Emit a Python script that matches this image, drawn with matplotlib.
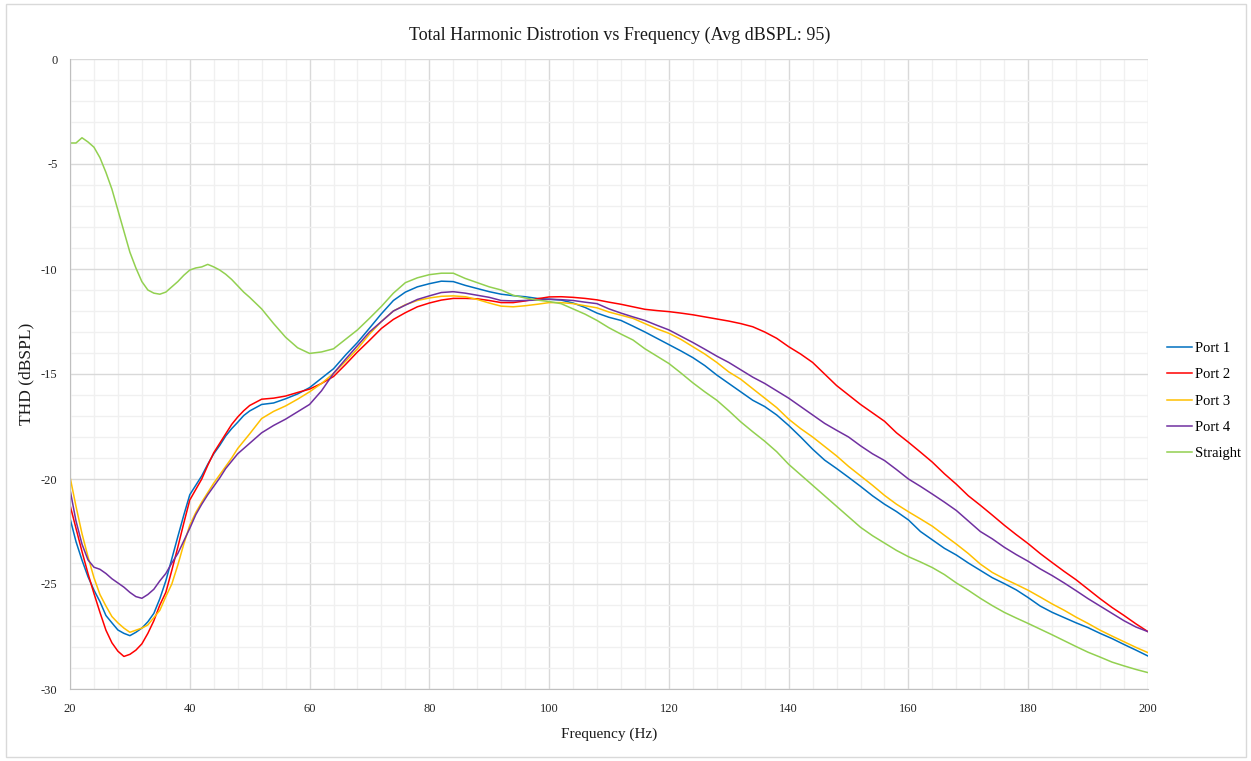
import matplotlib
matplotlib.use("Agg")
import matplotlib.pyplot as plt
from matplotlib.ticker import MultipleLocator
from matplotlib.patches import Rectangle

# frequency points (Hz): 1 Hz steps up to 50, then 2 Hz steps
freq = list(range(20, 51)) + list(range(52, 201, 2))

port1 = [-21.87, -22.98, -23.86, -24.65, -25.29, -25.84, -26.5, -26.85, -27.19, -27.35,
         -27.46, -27.3, -27.1, -26.8, -26.4, -25.7, -24.85, -23.8, -22.75, -21.72,
         -20.75, -20.3, -19.85, -19.3, -18.8, -18.4, -17.95, -17.6, -17.3, -16.98, -16.76,
         -16.45, -16.38, -16.18, -15.95, -15.65, -15.2, -14.75, -14.1, -13.5, -12.82,
         -12.13, -11.5, -11.1, -10.85, -10.7, -10.58, -10.6, -10.78, -10.93, -11.08,
         -11.2, -11.27, -11.32, -11.4, -11.44, -11.48, -11.62, -11.83, -12.1, -12.3,
         -12.45, -12.72, -13.0, -13.3, -13.6, -13.9, -14.22, -14.6, -15.05, -15.45,
         -15.85, -16.25, -16.55, -16.95, -17.45, -18.0, -18.58, -19.1, -19.5, -19.92,
         -20.35, -20.8, -21.2, -21.55, -21.95, -22.5, -22.9, -23.3, -23.62, -24.0,
         -24.35, -24.7, -24.98, -25.28, -25.65, -26.05, -26.35, -26.6, -26.85, -27.08,
         -27.35, -27.6, -27.88, -28.15, -28.43]

port2 = [-21.24, -22.35, -23.45, -24.5, -25.45, -26.35, -27.2, -27.8, -28.2, -28.45,
         -28.35, -28.15, -27.85, -27.35, -26.75, -26.0, -25.4, -24.35, -23.25, -22.1,
         -21.0, -20.5, -20.0, -19.35, -18.75, -18.3, -17.85, -17.4, -17.05, -16.75, -16.5,
         -16.2, -16.15, -16.05, -15.88, -15.72, -15.45, -15.12, -14.55, -13.95, -13.4,
         -12.83, -12.4, -12.08, -11.8, -11.62, -11.48, -11.4, -11.4, -11.42, -11.5,
         -11.6, -11.6, -11.52, -11.42, -11.33, -11.32, -11.35, -11.4, -11.47, -11.58,
         -11.68, -11.8, -11.92, -11.98, -12.03, -12.1, -12.18, -12.28, -12.38, -12.48,
         -12.6, -12.75, -13.0, -13.3, -13.7, -14.05, -14.45, -15.0, -15.55, -16.0,
         -16.45, -16.85, -17.25, -17.8, -18.25, -18.72, -19.2, -19.75, -20.25, -20.8,
         -21.25, -21.72, -22.2, -22.65, -23.08, -23.55, -23.98, -24.4, -24.8, -25.25,
         -25.7, -26.12, -26.5, -26.9, -27.27]

port3 = [-19.9, -21.3, -22.6, -23.7, -24.7, -25.5, -26.05, -26.55, -26.85, -27.1,
         -27.3, -27.2, -27.1, -26.95, -26.6, -26.25, -25.6, -25.0, -24.1, -23.1,
         -22.2, -21.6, -21.1, -20.65, -20.2, -19.8, -19.4, -19.0, -18.55, -18.2, -17.85,
         -17.12, -16.78, -16.52, -16.2, -15.85, -15.45, -14.97, -14.4, -13.8, -13.1,
         -12.5, -12.0, -11.7, -11.5, -11.38, -11.3, -11.28, -11.32, -11.45, -11.62,
         -11.77, -11.8, -11.75, -11.68, -11.6, -11.6, -11.65, -11.75, -11.85, -12.05,
         -12.2, -12.35, -12.6, -12.85, -13.06, -13.35, -13.7, -14.05, -14.45, -14.9,
         -15.25, -15.7, -16.15, -16.6, -17.15, -17.6, -18.0, -18.45, -18.9, -19.4,
         -19.85, -20.3, -20.78, -21.2, -21.56, -21.9, -22.25, -22.68, -23.1, -23.55,
         -24.05, -24.45, -24.75, -25.02, -25.3, -25.62, -25.95, -26.25, -26.58, -26.88,
         -27.2, -27.48, -27.75, -28.02, -28.27]

port4 = [-20.5, -22.0, -23.1, -23.85, -24.2, -24.3, -24.5, -24.75, -24.95, -25.15,
         -25.4, -25.6, -25.68, -25.5, -25.25, -24.85, -24.5, -24.0, -23.55, -22.95,
         -22.35, -21.7, -21.2, -20.75, -20.35, -19.95, -19.5, -19.15, -18.8, -18.55, -18.3,
         -17.8, -17.45, -17.15, -16.8, -16.45, -15.8, -14.97, -14.3, -13.65, -13.0,
         -12.5, -12.0, -11.72, -11.45, -11.28, -11.12, -11.08, -11.15, -11.25, -11.35,
         -11.5, -11.52, -11.5, -11.48, -11.44, -11.46, -11.5, -11.58, -11.65, -11.9,
         -12.1, -12.28, -12.45, -12.68, -12.9, -13.2, -13.5, -13.82, -14.15, -14.45,
         -14.8, -15.15, -15.45, -15.8, -16.15, -16.55, -16.95, -17.35, -17.68, -18.0,
         -18.42, -18.8, -19.12, -19.55, -20.0, -20.35, -20.72, -21.1, -21.5, -22.0,
         -22.5, -22.85, -23.25, -23.6, -23.92, -24.28, -24.6, -24.95, -25.32, -25.7,
         -26.05, -26.4, -26.75, -27.05, -27.27]

straight = [-4.0, -4.0, -3.75, -3.95, -4.2, -4.7, -5.4, -6.2, -7.2, -8.2,
            -9.2, -9.95, -10.6, -11.0, -11.15, -11.2, -11.1, -10.85, -10.6, -10.3,
            -10.05, -9.95, -9.9, -9.78, -9.9, -10.05, -10.25, -10.5, -10.8, -11.1, -11.35,
            -11.9, -12.6, -13.25, -13.75, -14.02, -13.95, -13.8, -13.35, -12.9, -12.35,
            -11.78, -11.15, -10.65, -10.42, -10.27, -10.2, -10.2, -10.45, -10.65, -10.85,
            -11.0, -11.25, -11.38, -11.48, -11.55, -11.65, -11.9, -12.15, -12.45, -12.8,
            -13.1, -13.38, -13.8, -14.15, -14.5, -14.95, -15.42, -15.85, -16.25, -16.75,
            -17.28, -17.75, -18.2, -18.7, -19.3, -19.8, -20.3, -20.8, -21.3, -21.8,
            -22.3, -22.7, -23.05, -23.4, -23.7, -23.95, -24.22, -24.55, -24.95, -25.3,
            -25.68, -26.03, -26.35, -26.62, -26.88, -27.15, -27.42, -27.7, -27.98, -28.25,
            -28.48, -28.72, -28.9, -29.07, -29.22]

series = [("Port 1", port1, "#0070C0"),
          ("Port 2", port2, "#FF0000"),
          ("Port 3", port3, "#FFC000"),
          ("Port 4", port4, "#7030A0"),
          ("Straight", straight, "#92D050")]

plt.rcParams['font.family'] = ['Liberation Serif', 'DejaVu Serif']
plt.rcParams['axes.unicode_minus'] = False

fig = plt.figure(figsize=(12.51, 7.61), dpi=100)
ax = fig.add_axes([70/1251, 1 - 689/761, (1148 - 70)/1251, (689 - 59)/761])

for name, vals, col in series:
    ax.plot(freq, vals, color=col, lw=1.1, label=name)

ax.set_xlim(20, 200)
ax.set_ylim(-30, 0)
ax.xaxis.set_major_locator(MultipleLocator(20))
ax.xaxis.set_minor_locator(MultipleLocator(4))
ax.yaxis.set_major_locator(MultipleLocator(5))
ax.yaxis.set_minor_locator(MultipleLocator(1))
ax.grid(which='major', color='#d9d9d9', lw=1.0)
ax.grid(which='minor', color='#f0f0f0', lw=1.0)
ax.set_axisbelow(True)
ax.tick_params(which='both', length=0, labelsize=9, colors='#262626')
ax.tick_params(axis='x', pad=10)
ax.tick_params(axis='y', pad=9)

for side in ['top', 'right']:
    ax.spines[side].set_visible(False)
for side in ['left', 'bottom']:
    ax.spines[side].set_color('#bfbfbf')

# title sits a little right of the plot centre in the original
ax.set_title('Total Harmonic Distrotion vs Frequency (Avg dBSPL: 95)',
             fontsize=13, pad=14, color='#1a1a1a', x=(620 - 70)/1078)
ax.set_xlabel('Frequency (Hz)', fontsize=11, labelpad=9, color='#1a1a1a')
ax.set_ylabel('THD (dBSPL)', fontsize=12.5, labelpad=5, color='#1a1a1a')

ax.legend(loc='center left', bbox_to_anchor=(1160/1251, 1 - 401/761),
          bbox_transform=fig.transFigure, frameon=False, fontsize=10.5,
          handlelength=1.7, handletextpad=0.2, labelspacing=0.9, borderpad=0)

fig.patches.append(Rectangle((6/1251, 4/761), 1240/1251, 753/761, transform=fig.transFigure,
                             fill=False, edgecolor='#d9d9d9', lw=1.0))

fig.savefig('out.png', dpi=100)
